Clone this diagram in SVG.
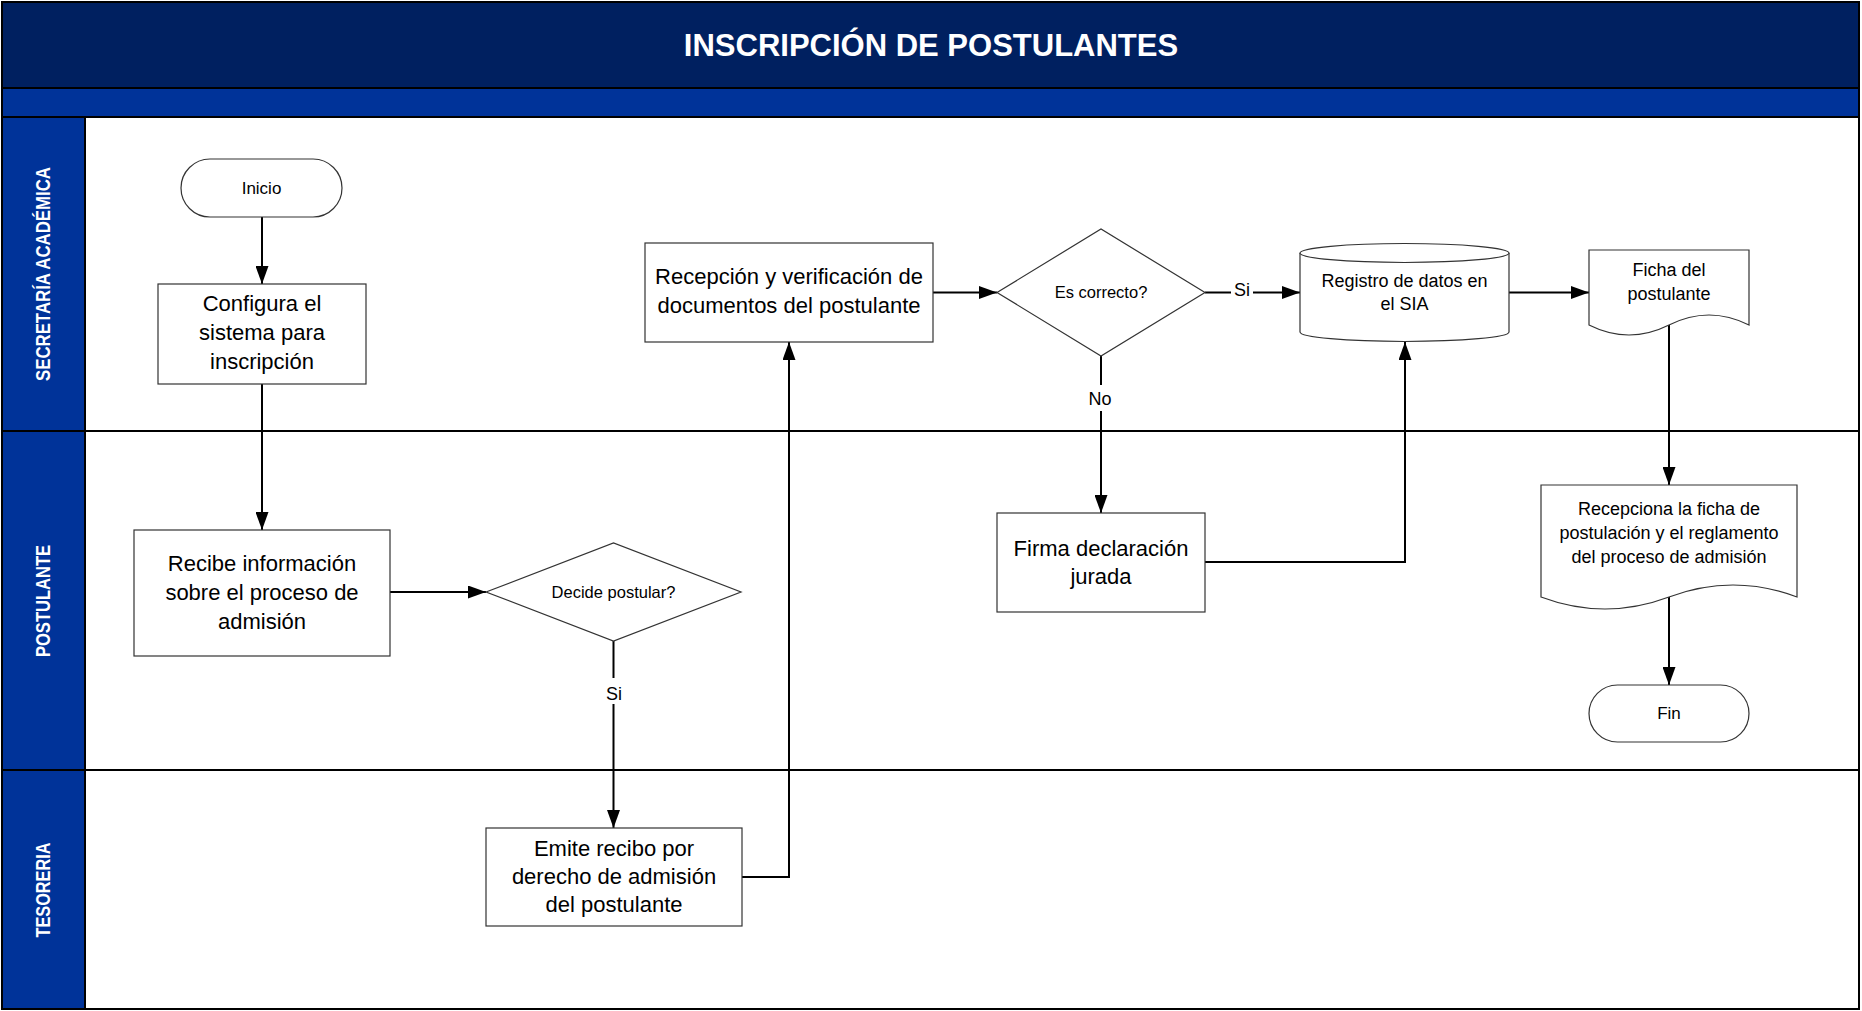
<svg xmlns="http://www.w3.org/2000/svg" width="1862" height="1011" viewBox="0 0 1862 1011">
<style>
.lbl{font-family:"Liberation Sans",Arial,sans-serif;fill:#000;text-anchor:middle}
.t22{font-size:22px}
.t18{font-size:18px}
.t17{font-size:17px}
.t16{font-size:16.5px}
.shape{fill:#fff;stroke:#333;stroke-width:1.2}
.conn{fill:none;stroke:#000;stroke-width:2}
.lane{font-family:"Liberation Sans Narrow","Liberation Sans",Arial,sans-serif;font-weight:bold;font-size:20px;fill:#fff;text-anchor:middle;dominant-baseline:central}
.sep{stroke:#000;stroke-width:2}
</style>
<defs>
<marker id="arr" markerUnits="userSpaceOnUse" markerWidth="18" markerHeight="13" refX="18" refY="6.5" orient="auto">
<path d="M0,0 L18,6.5 L0,13 Z" fill="#000"/>
</marker>
</defs>
<g id="frame">
<rect x="2" y="2" width="1857" height="1007" fill="#fff" stroke="#000" stroke-width="2"/>
<rect x="2" y="2" width="1857" height="86" fill="#002060"/>
<rect x="2" y="89" width="1857" height="28" fill="#003399"/>
<rect x="2" y="117" width="83" height="892" fill="#003399"/>
<line class="sep" x1="2" y1="88" x2="1859" y2="88"/>
<line class="sep" x1="2" y1="117" x2="1859" y2="117"/>
<line class="sep" x1="85" y1="117" x2="85" y2="1009"/>
<line class="sep" x1="2" y1="431" x2="1859" y2="431"/>
<line class="sep" x1="2" y1="770" x2="1859" y2="770"/>
<rect x="2" y="2" width="1857" height="1007" fill="none" stroke="#000" stroke-width="2"/>
<text x="931" y="56" font-family="Liberation Sans,Arial,sans-serif" font-weight="bold" font-size="31" fill="#fff" text-anchor="middle">INSCRIPCIÓN DE POSTULANTES</text>
<text class="lane" transform="translate(43,274) rotate(-90)" textLength="214" lengthAdjust="spacingAndGlyphs">SECRETARÍA ACADÉMICA</text>
<text class="lane" transform="translate(43,601) rotate(-90)" textLength="112" lengthAdjust="spacingAndGlyphs">POSTULANTE</text>
<text class="lane" transform="translate(43,890) rotate(-90)" textLength="95" lengthAdjust="spacingAndGlyphs">TESORERIA</text>
</g>
<g id="connectors">
<path class="conn" d="M262,217 V284" marker-end="url(#arr)"/>
<path class="conn" d="M262,384 V530" marker-end="url(#arr)"/>
<path class="conn" d="M390,592 H486" marker-end="url(#arr)"/>
<path class="conn" d="M613.5,641 V828" marker-end="url(#arr)"/>
<path class="conn" d="M742,877 H789 V342" marker-end="url(#arr)"/>
<path class="conn" d="M933,292.5 H997" marker-end="url(#arr)"/>
<path class="conn" d="M1205,292.5 H1300" marker-end="url(#arr)"/>
<path class="conn" d="M1101,356 V513" marker-end="url(#arr)"/>
<path class="conn" d="M1205,562 H1405 V342" marker-end="url(#arr)"/>
<path class="conn" d="M1509,292.5 H1589" marker-end="url(#arr)"/>
<path class="conn" d="M1669,325 V485" marker-end="url(#arr)"/>
<path class="conn" d="M1669,597 V685" marker-end="url(#arr)"/>
<rect x="603" y="678" width="22" height="26" fill="#fff"/>
<text class="lbl t18" x="614" y="700">Si</text>
<rect x="1231" y="280" width="22" height="24" fill="#fff"/>
<text class="lbl t18" x="1242" y="296">Si</text>
<rect x="1087" y="385" width="28" height="26" fill="#fff"/>
<text class="lbl t18" x="1100" y="405">No</text>
</g>
<g id="inicio">
<rect class="shape" x="181" y="159" width="161" height="58" rx="29"/>
<text class="lbl t17" x="261.5" y="194">Inicio</text>
</g>
<g id="configura">
<rect class="shape" x="158" y="284" width="208" height="100"/>
<text class="lbl t22" x="262" y="311">Configura el</text>
<text class="lbl t22" x="262" y="340">sistema para</text>
<text class="lbl t22" x="262" y="369">inscripción</text>
</g>
<g id="recibe">
<rect class="shape" x="134" y="530" width="256" height="126"/>
<text class="lbl t22" x="262" y="571">Recibe información</text>
<text class="lbl t22" x="262" y="600">sobre el proceso de</text>
<text class="lbl t22" x="262" y="629">admisión</text>
</g>
<g id="decide">
<polygon class="shape" points="486,592 613.5,543 741,592 613.5,641"/>
<text class="lbl t16" x="613.5" y="598">Decide postular?</text>
</g>
<g id="emite">
<rect class="shape" x="486" y="828" width="256" height="98"/>
<text class="lbl t22" x="614" y="856">Emite recibo por</text>
<text class="lbl t22" x="614" y="884">derecho de admisión</text>
<text class="lbl t22" x="614" y="912">del postulante</text>
</g>
<g id="recepcion">
<rect class="shape" x="645" y="243" width="288" height="99"/>
<text class="lbl t22" x="789" y="284">Recepción y verificación de</text>
<text class="lbl t22" x="789" y="313">documentos del postulante</text>
</g>
<g id="escorrecto">
<polygon class="shape" points="997,292.5 1101,229 1205,292.5 1101,356"/>
<text class="lbl t16" x="1101" y="298">Es correcto?</text>
</g>
<g id="firma">
<rect class="shape" x="997" y="513" width="208" height="99"/>
<text class="lbl t22" x="1101" y="556">Firma declaración</text>
<text class="lbl t22" x="1101" y="584">jurada</text>
</g>
<g id="registro">
<path class="shape" d="M1300,253 V332 A104.5,9.5 0 0 0 1509,332 V253"/>
<ellipse class="shape" cx="1404.5" cy="253" rx="104.5" ry="9.5"/>
<text class="lbl t18" x="1404.5" y="287">Registro de datos en</text>
<text class="lbl t18" x="1404.5" y="310">el SIA</text>
</g>
<g id="ficha">
<path class="shape" d="M1589,250 H1749 V325 Q1709,305 1669,325 Q1629,345 1589,325 Z"/>
<text class="lbl t18" x="1669" y="276">Ficha del</text>
<text class="lbl t18" x="1669" y="300">postulante</text>
</g>
<g id="recepciona">
<path class="shape" d="M1541,485 H1797 V597 Q1733,573 1669,597 Q1605,621 1541,597 Z"/>
<text class="lbl t18" x="1669" y="515">Recepciona la ficha de</text>
<text class="lbl t18" x="1669" y="539">postulación y el reglamento</text>
<text class="lbl t18" x="1669" y="563">del proceso de admisión</text>
</g>
<g id="fin">
<rect class="shape" x="1589" y="685" width="160" height="57" rx="28.5"/>
<text class="lbl t17" x="1669" y="719">Fin</text>
</g>
</svg>
